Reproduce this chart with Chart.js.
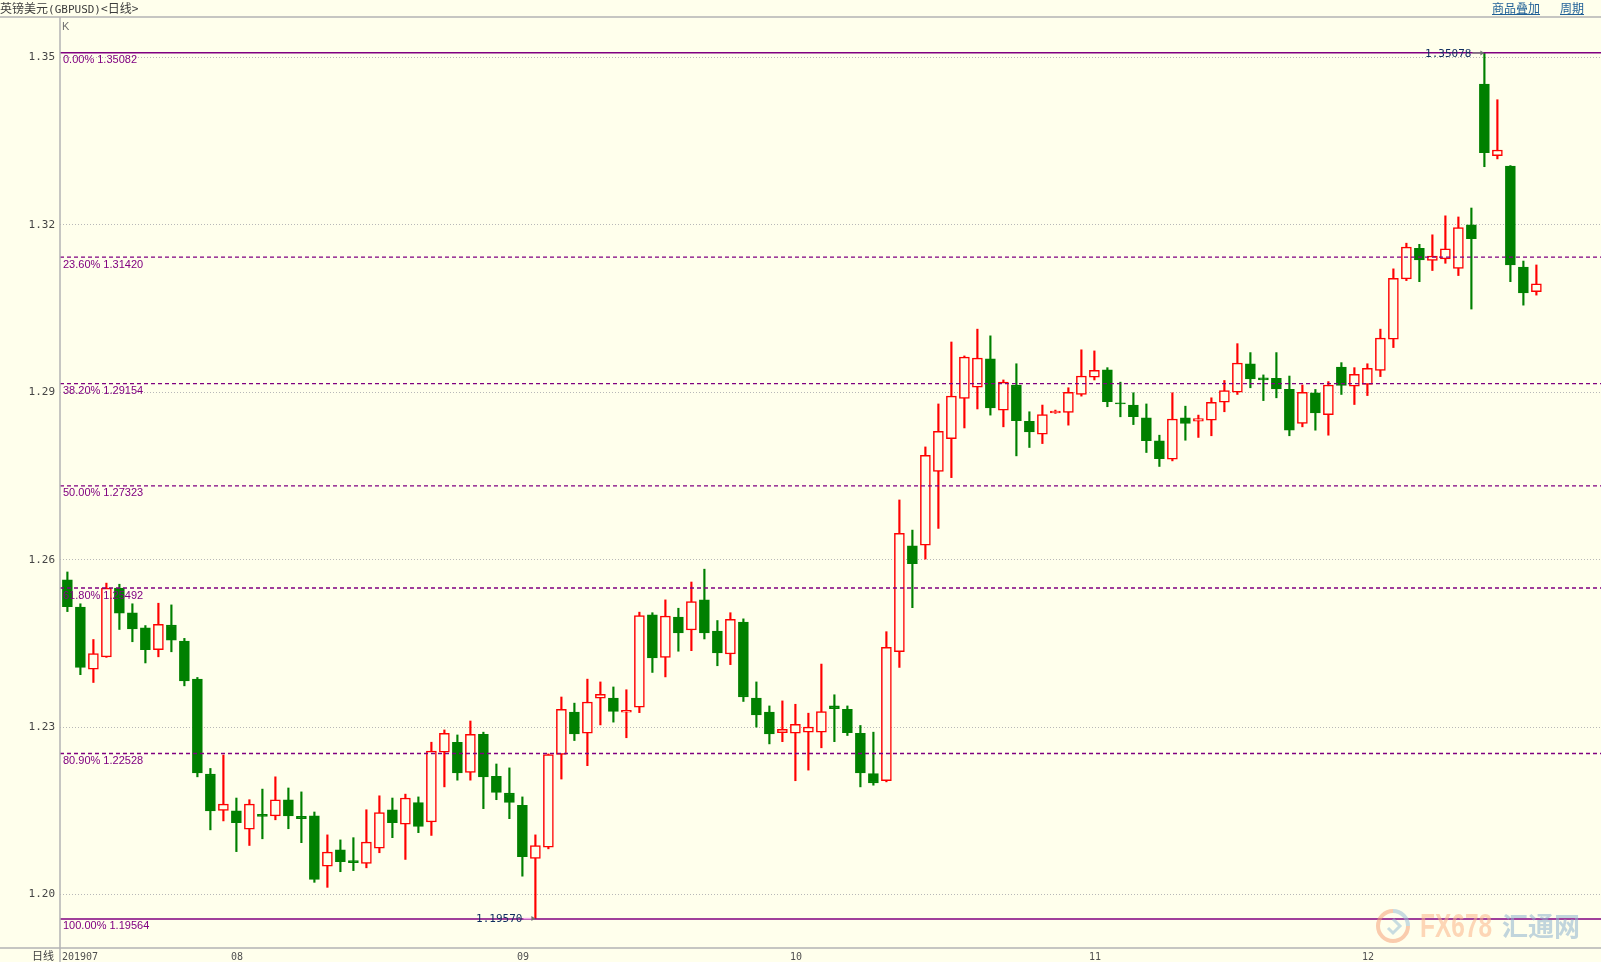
<!DOCTYPE html>
<html>
<head>
<meta charset="utf-8">
<title>英镑美元(GBPUSD)日线</title>
<script src="https://cdn.jsdelivr.net/npm/chart.js@4/dist/chart.umd.min.js"></script>
<style>
  html, body { margin: 0; padding: 0; background: #ffffec; overflow: hidden; }
  #wrap { position: relative; width: 1601px; height: 962px; }
  #kline { position: absolute; left: 0; top: 0; }
  .txt { position: absolute; white-space: nowrap; z-index: 2; }
  .title { left: 0; top: 0; font: 12px "Noto Sans CJK SC", sans-serif; color: #3c3c3c; line-height: 15px; }
  .title .en { font: 11px "DejaVu Sans Mono", monospace; }
  .link { top: 0; font: 12px "Noto Sans CJK SC", sans-serif; color: #1f5f96; text-decoration: underline; line-height: 15px; }
  .klab { left: 62px; top: 20px; font: 11px "Liberation Sans", sans-serif; color: #707070; }
  .period { left: 32px; top: 948px; font: 11px "Noto Sans CJK SC", sans-serif; color: #404040; line-height: 14px; }
  .wm { top: 905px; opacity: 0.55; z-index: 1; }
  .wm1 { left: 1420px; font: bold 34px "Liberation Sans", sans-serif; color: #fbb48a; transform: scaleX(0.72); transform-origin: left top; line-height: 40px; }
  .wm2 { left: 1502px; top: 906px; font: bold 26px "Noto Sans CJK SC", sans-serif; color: #8fb3cf; line-height: 38px; }
</style>
</head>
<body>
<div id="wrap">
  <canvas id="kline" width="1601" height="962"></canvas>
  <div class="txt title">英镑美元<span class="en">(GBPUSD)</span>&lt;日线&gt;</div>
  <div class="txt link" style="left:1492px">商品叠加</div>
  <div class="txt link" style="left:1560px">周期</div>
  <div class="txt klab">K</div>
  <div class="txt period">日线</div>
  <svg class="txt" style="left:1376px;top:909px;opacity:0.55;z-index:1" width="34" height="34">
    <path d="M17 2 A15 15 0 1 0 32 17" fill="none" stroke="#f6a27a" stroke-width="4"/>
    <path d="M32 17 A15 15 0 0 0 17 2" fill="none" stroke="#9cbfd8" stroke-width="4"/>
    <path d="M17 10 L24 17 L17 24 L12 19" fill="none" stroke="#9cbfd8" stroke-width="3"/>
  </svg>
  <div class="txt wm wm1">FX678</div>
  <div class="txt wm wm2">汇通网</div>
</div>
<script>
// trading days shown (month-day), 2019-07-15 .. 2019-12-19
const dates = [
  '07-15','07-16','07-17','07-18','07-19','07-22','07-23','07-24','07-25','07-26','07-29','07-30','07-31',
  '08-01','08-02','08-05','08-06','08-07','08-08','08-09','08-12','08-13','08-14','08-15','08-16','08-19',
  '08-20','08-21','08-22','08-23','08-26','08-27','08-28','08-29','08-30',
  '09-02','09-03','09-04','09-05','09-06','09-09','09-10','09-11','09-12','09-13','09-16','09-17','09-18',
  '09-19','09-20','09-23','09-24','09-25','09-26','09-27','09-30',
  '10-01','10-02','10-03','10-04','10-07','10-08','10-09','10-10','10-11','10-14','10-15','10-16','10-17',
  '10-18','10-21','10-22','10-23','10-24','10-25','10-28','10-29','10-30','10-31',
  '11-01','11-04','11-05','11-06','11-07','11-08','11-11','11-12','11-13','11-14','11-15','11-18','11-19',
  '11-20','11-21','11-22','11-25','11-26','11-27','11-28','11-29',
  '12-02','12-03','12-04','12-05','12-06','12-09','12-10','12-11','12-12','12-13','12-16','12-17','12-18','12-19'
];

const openP = [
  1.2564, 1.2515, 1.2404, 1.2426, 1.2549, 1.2505, 1.2478, 1.2439, 1.2483, 1.2454, 1.2386, 1.2216, 1.2151,
  1.2150, 1.2117, 1.2144, 1.2141, 1.2170, 1.2140, 1.2141, 1.2051, 1.2080, 1.2061, 1.2056, 1.2083, 1.2152,
  1.2126, 1.2165, 1.2130, 1.2255, 1.2273, 1.2219, 1.2287, 1.2212, 1.2182,
  1.2160, 1.2065, 1.2085, 1.2251, 1.2327, 1.2289, 1.2352, 1.2352, 1.2327, 1.2336, 1.2501, 1.2425, 1.2497,
  1.2474, 1.2528, 1.2472, 1.2431, 1.2488, 1.2352, 1.2327, 1.2290,
  1.2289, 1.2291, 1.2291, 1.2338, 1.2332, 1.2289, 1.2217, 1.2204, 1.2435, 1.2625, 1.2626, 1.2758, 1.2817,
  1.2889, 1.2909, 1.2960, 1.2868, 1.2913, 1.2848, 1.2825, 1.2863, 1.2864, 1.2896,
  1.2927, 1.2940, 1.2881, 1.2877, 1.2854, 1.2813, 1.2780, 1.2854, 1.2848, 1.2850, 1.2882, 1.2900, 1.2951,
  1.2926, 1.2925, 1.2905, 1.2844, 1.2899, 1.2860, 1.2945, 1.2911,
  1.2914, 1.2939, 1.2995, 1.3103, 1.3158, 1.3136, 1.3139, 1.3122, 1.3200, 1.3452, 1.3324, 1.3305, 1.3124, 1.3080
];
const highP = [
  1.2578, 1.2521, 1.2457, 1.2558, 1.2556, 1.2521, 1.2482, 1.2522, 1.2519, 1.2459, 1.2389, 1.2226, 1.2250,
  1.2173, 1.2170, 1.2189, 1.2211, 1.2191, 1.2184, 1.2148, 1.2107, 1.2098, 1.2102, 1.2152, 1.2177, 1.2173,
  1.2180, 1.2175, 1.2273, 1.2295, 1.2286, 1.2311, 1.2291, 1.2234, 1.2227,
  1.2175, 1.2107, 1.2252, 1.2354, 1.2343, 1.2386, 1.2381, 1.2372, 1.2367, 1.2506, 1.2505, 1.2528, 1.2513,
  1.2560, 1.2583, 1.2491, 1.2505, 1.2494, 1.2381, 1.2338, 1.2347,
  1.2341, 1.2325, 1.2413, 1.2358, 1.2338, 1.2303, 1.2291, 1.2471, 1.2707, 1.2653, 1.2802, 1.2879, 1.2990,
  1.2965, 1.3013, 1.3001, 1.2922, 1.2951, 1.2865, 1.2877, 1.2868, 1.2908, 1.2976,
  1.2974, 1.2944, 1.2918, 1.2899, 1.2879, 1.2823, 1.2899, 1.2875, 1.2859, 1.2890, 1.2921, 1.2987, 1.2971,
  1.2931, 1.2971, 1.2929, 1.2913, 1.2905, 1.2919, 1.2953, 1.2944,
  1.2951, 1.3013, 1.3121, 1.3167, 1.3165, 1.3182, 1.3216, 1.3214, 1.3230, 1.35078, 1.3424, 1.3306, 1.3135, 1.3128
];
const lowP = [
  1.2507, 1.2394, 1.2380, 1.2425, 1.2475, 1.2453, 1.2415, 1.2426, 1.2435, 1.2374, 1.2211, 1.2116, 1.2132,
  1.2077, 1.2088, 1.2100, 1.2134, 1.2118, 1.2093, 1.2022, 1.2013, 1.2041, 1.2043, 1.2048, 1.2075, 1.2102,
  1.2063, 1.2111, 1.2106, 1.2193, 1.2205, 1.2205, 1.2154, 1.2170, 1.2136,
  1.2033, 1.19570, 1.2082, 1.2207, 1.2276, 1.2231, 1.2304, 1.2309, 1.2281, 1.2326, 1.2398, 1.2390, 1.2436,
  1.2437, 1.2458, 1.2410, 1.2412, 1.2346, 1.2300, 1.2270, 1.2274,
  1.2204, 1.2223, 1.2263, 1.2274, 1.2285, 1.2193, 1.2196, 1.2202, 1.2407, 1.2514, 1.2601, 1.2656, 1.2747,
  1.2836, 1.2870, 1.2859, 1.2838, 1.2786, 1.2801, 1.2808, 1.2862, 1.2841, 1.2893,
  1.2922, 1.2874, 1.2856, 1.2842, 1.2792, 1.2767, 1.2777, 1.2814, 1.2819, 1.2822, 1.2865, 1.2896, 1.2908,
  1.2885, 1.2890, 1.2822, 1.2838, 1.2832, 1.2823, 1.2896, 1.2878,
  1.2894, 1.2928, 1.2980, 1.3100, 1.3098, 1.3118, 1.3131, 1.3109, 1.3049, 1.3304, 1.3318, 1.3098, 1.3056, 1.3074
];
const closeP = [
  1.2516, 1.2407, 1.2432, 1.2549, 1.2504, 1.2476, 1.2439, 1.2484, 1.2456, 1.2383, 1.2218, 1.2150, 1.2162,
  1.2129, 1.2162, 1.2140, 1.2170, 1.2141, 1.2136, 1.2027, 1.2076, 1.2059, 1.2057, 1.2094, 1.2147, 1.2129,
  1.2173, 1.2122, 1.2257, 1.2289, 1.2218, 1.2287, 1.2211, 1.2183, 1.2165,
  1.2068, 1.2088, 1.2251, 1.2332, 1.2288, 1.2345, 1.2359, 1.2328, 1.2330, 1.2500, 1.2424, 1.2499, 1.2469,
  1.2525, 1.2469, 1.2433, 1.2493, 1.2354, 1.2322, 1.2288, 1.2296,
  1.2305, 1.2300, 1.2328, 1.2333, 1.2290, 1.2218, 1.2200, 1.2443, 1.2647, 1.2593, 1.2787, 1.2830, 1.2893,
  1.2963, 1.2961, 1.2872, 1.2918, 1.2849, 1.2829, 1.2860, 1.2866, 1.2900, 1.2929,
  1.2939, 1.2883, 1.2879, 1.2856, 1.2813, 1.2781, 1.2852, 1.2844, 1.2853, 1.2882, 1.2903, 1.2952, 1.2924,
  1.2922, 1.2906, 1.2832, 1.2900, 1.2863, 1.2913, 1.2912, 1.2932,
  1.2943, 1.2997, 1.3104, 1.3160, 1.3137, 1.3144, 1.3157, 1.3195, 1.3175, 1.3329, 1.3334, 1.3128, 1.3078, 1.3094
];

const yTicks = [1.20, 1.23, 1.26, 1.29, 1.32, 1.35];
const tickLabels = ['201907', '08', '09', '10', '11', '12'];

// fibonacci retracement levels
const fibPct = ['0.00%', '23.60%', '38.20%', '50.00%', '61.80%', '80.90%', '100.00%'];
const fibPrice = [1.35082, 1.31420, 1.29154, 1.27323, 1.25492, 1.22528, 1.19564];

const BG = '#ffffec';
const UP = '#ff0000';
const DOWN = '#008000';

const idx = dates.map((d, i) => i);
const monthStarts = idx.filter(i => i === 0 || dates[i].slice(0, 2) !== dates[i - 1].slice(0, 2));
const isUp = idx.map(i => closeP[i] >= openP[i]);

const hiIdx = highP.indexOf(Math.max(...highP));
const loIdx = lowP.indexOf(Math.min(...lowP));

const overlay = {
    id: 'overlay',
    afterDatasetsDraw(chart) {
        const { ctx, chartArea, scales: { x, y } } = chart;
        ctx.save();

        fibPrice.forEach((p, k) => {
            const py = y.getPixelForValue(p);
            ctx.beginPath();
            ctx.strokeStyle = '#800080';
            ctx.lineWidth = 1.4;
            ctx.setLineDash(k === 0 || k === fibPrice.length - 1 ? [] : [4, 3]);
            ctx.moveTo(chartArea.left, py);
            ctx.lineTo(chartArea.right, py);
            ctx.stroke();
            ctx.setLineDash([]);
            ctx.fillStyle = '#800080';
            ctx.font = '11px "Liberation Sans", Arial, sans-serif';
            ctx.textBaseline = 'top';
            ctx.textAlign = 'left';
            ctx.fillText(fibPct[k] + ' ' + p.toFixed(5), 63, py + 2);
        });

        // max / min markers
        ctx.font = '11px "DejaVu Sans Mono", monospace';
        ctx.textBaseline = 'middle';
        ctx.textAlign = 'right';
        [[hiIdx, highP[hiIdx], '#808080'], [loIdx, lowP[loIdx], '#f0a0e8']].forEach(([i, v, lineCol]) => {
            const px = x.getPixelForValue(i);
            const py = y.getPixelForValue(v);
            ctx.fillStyle = '#0f2d5f';
            ctx.fillText(v.toFixed(5), px - 13, py + 1);
            ctx.beginPath();
            ctx.strokeStyle = lineCol;
            ctx.lineWidth = 1.5;
            ctx.moveTo(px - 12, py);
            ctx.lineTo(px - 2, py);
            ctx.stroke();
            ctx.beginPath();
            ctx.fillStyle = '#707070';
            ctx.moveTo(px, py);
            ctx.lineTo(px - 4, py - 2.5);
            ctx.lineTo(px - 4, py + 2.5);
            ctx.closePath();
            ctx.fill();
        });
        ctx.restore();
    },
    afterDraw(chart) {
        const { ctx, chartArea } = chart;
        ctx.save();
        ctx.strokeStyle = '#b4b4b4';
        ctx.lineWidth = 1.5;
        ctx.beginPath();
        ctx.moveTo(0, chartArea.top);
        ctx.lineTo(chart.width, chartArea.top);
        ctx.moveTo(0, chartArea.bottom);
        ctx.lineTo(chart.width, chartArea.bottom);
        ctx.moveTo(chartArea.left, chartArea.top);
        ctx.lineTo(chartArea.left, chart.height);
        ctx.stroke();
        ctx.restore();
    }
};

new Chart(document.getElementById('kline').getContext('2d'), {
    type: 'bar',
    data: {
        datasets: [
            {
                label: 'wick',
                data: idx.map(i => ({ x: i, y: [lowP[i], highP[i]] })),
                backgroundColor: idx.map(i => isUp[i] ? UP : DOWN),
                borderWidth: 0,
                barThickness: 1.5,
                grouped: false,
                order: 2
            },
            {
                label: 'body',
                data: idx.map(i => ({ x: i, y: [openP[i], closeP[i]] })),
                backgroundColor: idx.map(i => isUp[i] ? BG : DOWN),
                borderColor: idx.map(i => isUp[i] ? UP : DOWN),
                borderWidth: 1.5,
                borderSkipped: false,
                barThickness: 10,
                grouped: false,
                order: 1
            }
        ]
    },
    options: {
        responsive: false,
        animation: false,
        layout: { padding: { top: 17, left: 0, right: 0, bottom: 0 } },
        plugins: {
            legend: { display: false },
            tooltip: { enabled: false }
        },
        scales: {
            x: {
                type: 'linear',
                min: -0.569,
                max: 117.97,
                offset: false,
                grid: { display: false, drawTicks: false },
                border: { display: false },
                afterFit(scale) { scale.height = 14; },
                afterBuildTicks(scale) { scale.ticks = monthStarts.map(v => ({ value: v })); },
                ticks: {
                    autoSkip: false,
                    maxRotation: 0,
                    align: 'start',
                    labelOffset: -5.5,
                    padding: 3,
                    color: '#505050',
                    font: { family: '"DejaVu Sans Mono", monospace', size: 10 },
                    callback: v => tickLabels[monthStarts.indexOf(v)]
                }
            },
            y: {
                min: 1.190434,
                max: 1.357220,
                grid: { color: '#b8b8b8', lineWidth: 1, drawTicks: false },
                border: { display: false, dash: [1, 2] },
                afterFit(scale) { scale.width = 60; },
                afterBuildTicks(scale) { scale.ticks = yTicks.map(v => ({ value: v })); },
                ticks: {
                    padding: 5,
                    color: '#454545',
                    font: { family: '"DejaVu Sans Mono", monospace', size: 11 },
                    callback: v => v.toFixed(2)
                }
            }
        }
    },
    plugins: [overlay]
});
</script>
</body>
</html>
